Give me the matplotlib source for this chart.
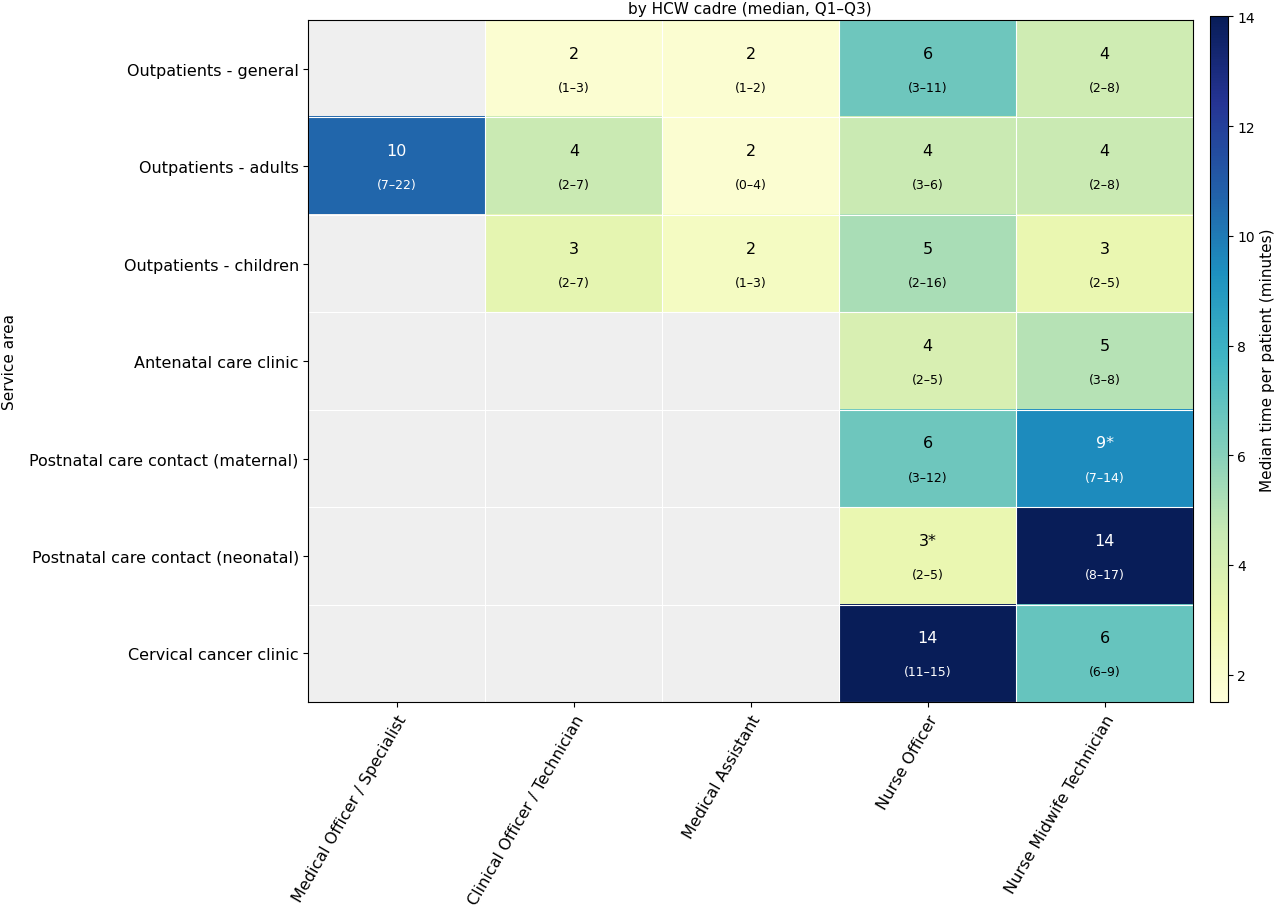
import numpy as np
import matplotlib.pyplot as plt
from matplotlib.colors import Normalize

rows = ["Outpatients - general", "Outpatients - adults", "Outpatients - children",
        "Antenatal care clinic", "Postnatal care contact (maternal)",
        "Postnatal care contact (neonatal)", "Cervical cancer clinic"]
cols = ["Medical Officer / Specialist", "Clinical Officer / Technician",
        "Medical Assistant", "Nurse Officer", "Nurse Midwife Technician"]
nan = np.nan
# colour values (estimated from cell shading)
shade = np.array([
    [nan, 1.8, 1.8, 6.6, 4.3],
    [10.6, 4.5, 1.8, 4.5, 4.5],
    [nan, 3.4, 2.4, 5.3, 3.2],
    [nan, nan, nan, 3.9, 5.0],
    [nan, nan, nan, 6.6, 9.5],
    [nan, nan, nan, 3.2, 14.0],
    [nan, nan, nan, 14.0, 6.8],
])
medians = [
    ["", "2", "2", "6", "4"],
    ["10", "4", "2", "4", "4"],
    ["", "3", "2", "5", "3"],
    ["", "", "", "4", "5"],
    ["", "", "", "6", "9*"],
    ["", "", "", "3*", "14"],
    ["", "", "", "14", "6"],
]
iqrs = [
    ["", "1–3", "1–2", "3–11", "2–8"],
    ["7–22", "2–7", "0–4", "3–6", "2–8"],
    ["", "2–7", "1–3", "2–16", "2–5"],
    ["", "", "", "2–5", "3–8"],
    ["", "", "", "3–12", "7–14"],
    ["", "", "", "2–5", "8–17"],
    ["", "", "", "11–15", "6–9"],
]

fig = plt.figure(figsize=(12.8, 9.12), dpi=100)
ax = fig.add_axes([0.241, 0.229, 0.691, 0.748])
cax = fig.add_axes([0.945, 0.229, 0.014, 0.752])

cmap = plt.get_cmap("YlGnBu").copy()
cmap.set_bad("#efefef")
norm = Normalize(vmin=1.5, vmax=14)
im = ax.imshow(np.ma.masked_invalid(shade), cmap=cmap, norm=norm, aspect="auto")

for i in range(len(rows) + 1):
    ax.axhline(i - 0.5, color="white", lw=0.8)
for j in range(len(cols) + 1):
    ax.axvline(j - 0.5, color="white", lw=0.8)

for i in range(len(rows)):
    for j in range(len(cols)):
        if medians[i][j] == "":
            continue
        c = "white" if norm(shade[i, j]) > 0.6 else "black"
        ax.text(j, i - 0.16, medians[i][j], ha="center", va="center", fontsize=11.5, color=c)
        ax.text(j, i + 0.19, "(" + iqrs[i][j] + ")", ha="center", va="center", fontsize=9, color=c)

ax.set_xticks(range(len(cols)))
ax.set_xticklabels(cols, rotation=60, ha="right", rotation_mode="anchor", fontsize=11.5)
ax.set_yticks(range(len(rows)))
ax.set_yticklabels(rows, fontsize=11.5)
ax.set_ylabel("Service area", fontsize=11)
ax.yaxis.set_label_coords(-0.33, 0.5)

cb = fig.colorbar(im, cax=cax)
cb.set_ticks([2, 4, 6, 8, 10, 12, 14])
cb.set_label("Median time per patient (minutes)", fontsize=11)

fig.text(0.586, 0.998, "by HCW cadre (median, Q1–Q3)", ha="center", va="top", fontsize=11)

plt.savefig("out.png")
